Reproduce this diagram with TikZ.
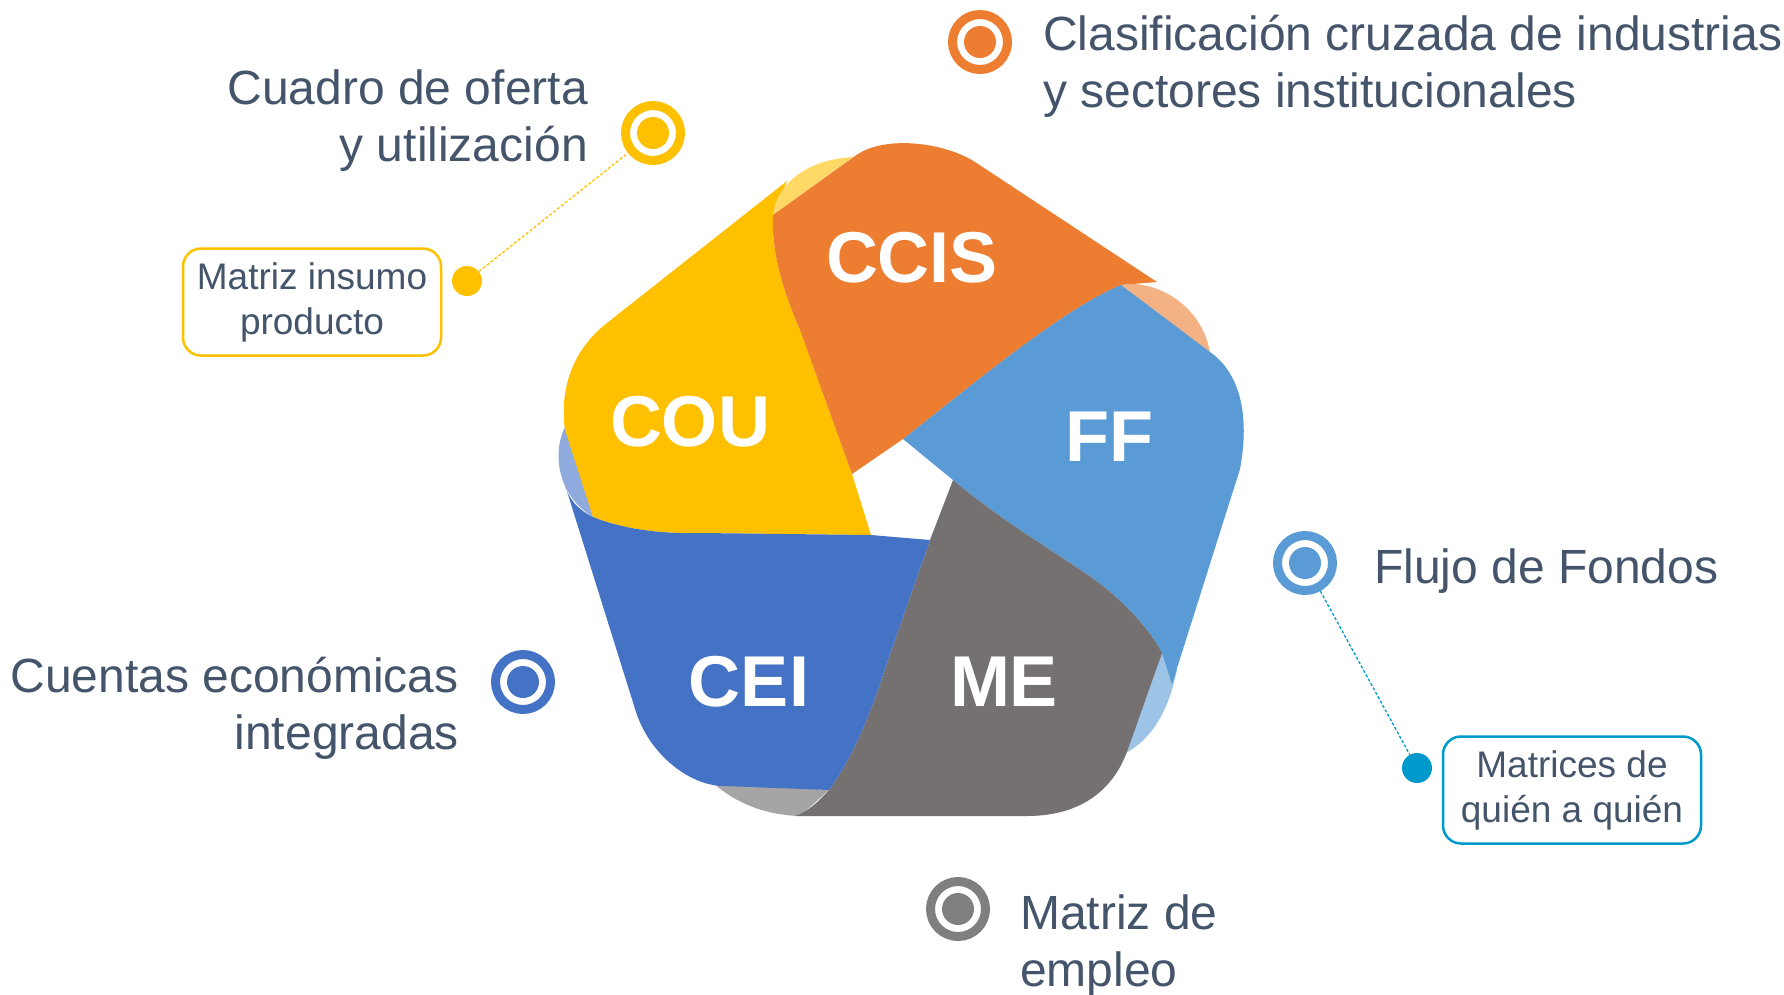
\documentclass[tikz,border=0pt]{standalone}
\usepackage{fontspec}
\setmainfont{Liberation Sans}
\definecolor{txtc}{HTML}{44546A}
\definecolor{ccisc}{HTML}{ED7D31}
\definecolor{ccisl}{HTML}{F4B183}
\definecolor{couc}{HTML}{FFC000}
\definecolor{coul}{HTML}{FFD966}
\definecolor{ceic}{HTML}{4472C4}
\definecolor{ceil}{HTML}{8FAADC}
\definecolor{ffc}{HTML}{5B9BD5}
\definecolor{ffl}{HTML}{9DC3E6}
\definecolor{mec}{HTML}{767171}
\definecolor{mel}{HTML}{A5A5A5}
\definecolor{metgtc}{HTML}{7F7F7F}
\definecolor{tealc}{HTML}{0099CC}
\begin{document}
\begin{tikzpicture}[x=1pt, y=-1pt,
  target/.style={circle, draw=#1, line width=9pt, minimum size=55pt, inner sep=0pt,
    path picture={\fill[#1] (path picture bounding box.center) circle (16pt);}},
  dot/.style={circle, fill=#1, minimum size=30pt, inner sep=0pt},
  head/.style={text=txtc, inner sep=0pt, font=\fontsize{48}{57}\selectfont},
  infobox/.style={draw=#1, line width=2.5pt, rounded corners=18pt, text=txtc, align=center,
    minimum width=258pt, minimum height=107pt, inner sep=0pt, font=\fontsize{37}{45}\selectfont},
  lbl/.style={text=white, inner sep=0pt, font=\fontsize{72}{72}\selectfont\bfseries},
  link/.style={draw=#1, line width=1.3pt, dash pattern=on 3pt off 2pt}]
\useasboundingbox (0,0) rectangle (1784,994);

\coordinate (h1) at (903,439);
\coordinate (h2) at (953,480);
\coordinate (h3) at (930,540);
\coordinate (h4) at (871,535);
\coordinate (h5) at (852,474);
\coordinate (oy) at (773,215);
\coordinate (of) at (1121,285);
\coordinate (fg) at (1162,653);
\coordinate (gc) at (829,790);
\coordinate (cy) at (593,517);

\fill[ceil] (566,425) .. controls (552,450) and (556,495) .. (cy) -- cycle;
\fill[mel] (712,782) .. controls (735,803) and (765,815) .. (800,816) -- (gc) -- cycle;
\fill[ffl] (1160,650) -- (1177,670) .. controls (1168,712) and (1152,740) .. (1122,755) -- cycle;

\fill[couc] (oy) -- (787,181) -- (607,323) .. controls (575,348) and (559,385) .. (565,430) -- (cy)
  .. controls (625,530) and (665,534) .. (701,533) -- (h4) -- (h5) -- (800,330)
  .. controls (785,295) and (771,255) .. (oy) -- cycle;
\fill[coul] (oy) .. controls (775,190) and (800,160) .. (853,157) -- cycle;
\fill[ccisc] (oy) -- (855,156) .. controls (885,134) and (946,143) .. (975,162) -- (1157,282) -- (of)
  .. controls (1060,310) and (960,395) .. (h1) -- (h5) -- (800,330)
  .. controls (785,295) and (771,255) .. (oy) -- cycle;
\fill[ccisl] (of) .. controls (1150,279) and (1200,300) .. (1210,352) -- cycle;
\fill[ffc] (of) -- (1210,352) .. controls (1240,373) and (1250,415) .. (1240,469) -- (1172,684) -- (fg)
  .. controls (1150,630) and (1125,602) .. (1095,580) .. controls (1060,555) and (1000,520) .. (h2)
  -- (h1) .. controls (960,395) and (1060,310) .. (of) -- cycle;
\fill[mec] (h3) -- (h2) .. controls (1000,520) and (1060,555) .. (1095,580)
  .. controls (1125,602) and (1150,630) .. (fg) -- (1128,749) .. controls (1112,795) and (1075,816) .. (1027,816)
  -- (795,816) .. controls (808,812) and (820,800) .. (gc) .. controls (858,750) and (875,700) .. (889,657) -- cycle;
\fill[ceic] (h3) -- (h4) -- (701,533) .. controls (665,534) and (625,530) .. (cy)
  .. controls (578,510) and (568,498) .. (565,485) -- (636,712) .. controls (650,755) and (690,786) .. (724,786)
  -- (gc) .. controls (858,750) and (875,700) .. (889,657) -- cycle;

\node[lbl] (ccis) at (912,258) {CCIS};
\node[lbl] (cou) at (690,422) {COU};
\node[lbl] (ff) at (1109,437) {FF};
\node[lbl] (cei) at (749,682) {CEI};
\node[lbl] (me) at (1004,682) {ME};

\node[target=ccisc] (ccistgt) at (980,42) {};
\node[target=couc] (coutgt) at (653,133) {};
\node[target=ffc] (fftgt) at (1305,563) {};
\node[target=ceic] (ceitgt) at (523,682) {};
\node[target=metgtc] (metgt) at (958,909) {};

\node[head, anchor=west, align=left] (clasif) at (1043,66)
  {Clasificación cruzada de industrias\\y sectores institucionales};
\node[head, anchor=east, align=right] (cuadro) at (588,120.5) {Cuadro de oferta\\y utilización};
\node[head, anchor=base west] (flujo) at (1374,583) {Flujo de Fondos};
\node[head, anchor=east, align=right] (cuentas) at (459,708) {Cuentas económicas\\integradas};
\node[head, anchor=west, align=left] (empleo) at (1020,946) {Matriz de\\empleo};

\node[dot=couc] (mipdot) at (467,281) {};
\node[dot=tealc] (mqqdot) at (1417,768) {};
\node[infobox=couc] (mip) at (312,302) {Matriz insumo\\producto};
\node[infobox=tealc] (mqq) at (1572,790) {Matrices de\\quién a quién};

\draw[link=couc] (mipdot) -- (coutgt);
\draw[link=tealc] (fftgt) -- (mqqdot);
\end{tikzpicture}
\end{document}
